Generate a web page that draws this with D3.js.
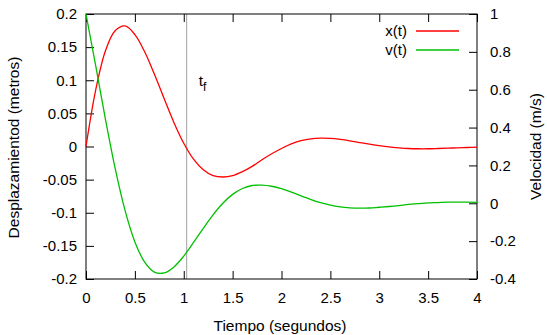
<!DOCTYPE html>
<html>
<head>
<meta charset="utf-8">
<script src="https://cdn.jsdelivr.net/npm/d3@7"></script>
<style>
  body { margin: 0; background: #fff; }
  text { font-family: "Liberation Sans", Arial, sans-serif; }
</style>
</head>
<body>
<div id="chart"></div>
<script>
// time samples (s)
const tiempo = [0, 0.1, 0.2, 0.3, 0.4, 0.5, 0.6, 0.7, 0.8, 0.9, 1.0, 1.1, 1.2, 1.3, 1.4, 1.5, 1.6, 1.7, 1.8, 1.9,
  2.0, 2.1, 2.2, 2.3, 2.4, 2.5, 2.6, 2.7, 2.8, 2.9, 3.0, 3.1, 3.2, 3.3, 3.4, 3.5, 3.6, 3.7, 3.8, 3.9, 4.0];
// x(t) desplazamiento (m)
const desplazamiento = [0, 0.086, 0.145, 0.175, 0.182, 0.169, 0.143, 0.109, 0.072, 0.036, 0.005, -0.019, -0.035, -0.044, -0.046, -0.044,
  -0.038, -0.030, -0.020, -0.011, -0.003, 0.004, 0.0087, 0.0116, 0.0126, 0.0122, 0.0107, 0.0086, 0.006, 0.0035,
  0.0012, -0.0007, -0.002, -0.003, -0.0034, -0.0034, -0.003, -0.0025, -0.002, -0.0015, -0.001];
// v(t) velocidad (m/s)
const velocidad = [1.0, 0.724, 0.441, 0.180, -0.039, -0.204, -0.311, -0.364, -0.368, -0.336, -0.279, -0.207, -0.132, -0.061, 0.0, 0.047,
  0.078, 0.094, 0.096, 0.090, 0.077, 0.059, 0.039, 0.020, 0.003, -0.010, -0.019, -0.024, -0.026, -0.025,
  -0.021, -0.017, -0.012, -0.006, -0.002, 0.002, 0.004, 0.006, 0.006, 0.006, 0.005];

const xTicks = [0, 0.5, 1, 1.5, 2, 2.5, 3, 3.5, 4];
const xTickLabels = ["0", "0.5", "1", "1.5", "2", "2.5", "3", "3.5", "4"];
const yTicks = [0.2, 0.15, 0.1, 0.05, 0, -0.05, -0.1, -0.15, -0.2];
const yTickLabels = ["0.2", "0.15", "0.1", "0.05", "0", "-0.05", "-0.1", "-0.15", "-0.2"];
const y2Ticks = [1, 0.8, 0.6, 0.4, 0.2, 0, -0.2, -0.4];
const y2TickLabels = ["1", "0.8", "0.6", "0.4", "0.2", "0", "-0.2", "-0.4"];
const tFinal = 1.03;

const width = 547, height = 335;
const margin = {top: 14, right: 70, bottom: 56, left: 86};
const x0 = margin.left, x1 = width - margin.right, yTop = margin.top, yBot = height - margin.bottom;

const svg = d3.select('#chart').append('svg')
  .attr('width', width)
  .attr('height', height);

const x = d3.scaleLinear().domain([0, 4]).range([x0, x1]);
const y = d3.scaleLinear().domain([-0.2, 0.2]).range([yBot, yTop]);
const y2 = d3.scaleLinear().domain([-0.4, 1]).range([yBot, yTop]);

// t_f line
svg.append('line')
  .attr('x1', x(tFinal)).attr('x2', x(tFinal))
  .attr('y1', yTop).attr('y2', yBot)
  .attr('stroke', '#a0a0a0').attr('stroke-width', 1);

const tf = svg.append('text')
  .attr('x', x(tFinal) + 12).attr('y', 86)
  .attr('font-size', 15.5).attr('fill', '#000');
tf.append('tspan').text('t');
tf.append('tspan').attr('dy', 5).attr('font-size', 12).text('f');

// axes
const styleAxis = g => {
  g.select('.domain').remove();
  g.selectAll('line').attr('stroke', '#000');
  g.selectAll('text').attr('font-size', 15).attr('fill', '#000')
    .style('font-family', '"Liberation Sans", Arial, sans-serif');
};

svg.append('g')
  .attr('transform', `translate(${x0},0)`)
  .call(d3.axisLeft(y).tickValues(yTicks).tickSize(-8).tickPadding(9)
    .tickFormat((d, i) => yTickLabels[i]))
  .call(styleAxis);

svg.append('g')
  .attr('transform', `translate(${x1},0)`)
  .call(d3.axisRight(y2).tickValues(y2Ticks).tickSize(-8).tickPadding(13)
    .tickFormat((d, i) => y2TickLabels[i]))
  .call(styleAxis);

svg.append('g')
  .attr('transform', `translate(0,${yBot})`)
  .call(d3.axisBottom(x).tickValues(xTicks).tickSize(-8).tickPadding(13)
    .tickFormat((d, i) => xTickLabels[i]))
  .call(styleAxis);

svg.append('g')
  .attr('transform', `translate(0,${yTop})`)
  .call(d3.axisTop(x).tickValues(xTicks).tickSize(-8).tickFormat(''))
  .call(styleAxis);

svg.append('rect')
  .attr('x', x0).attr('y', yTop)
  .attr('width', x1 - x0).attr('height', yBot - yTop)
  .attr('fill', 'none').attr('stroke', '#000').attr('stroke-width', 1);

// curves
const lineX = d3.line()
  .x((d, i) => x(tiempo[i]))
  .y(d => y(d))
  .curve(d3.curveCatmullRom);
const lineV = d3.line()
  .x((d, i) => x(tiempo[i]))
  .y(d => y2(d))
  .curve(d3.curveCatmullRom);

svg.append('path')
  .attr('d', lineX(desplazamiento))
  .attr('fill', 'none').attr('stroke', '#ff0000').attr('stroke-width', 1.3);
svg.append('path')
  .attr('d', lineV(velocidad))
  .attr('fill', 'none').attr('stroke', '#00c000').attr('stroke-width', 1.3);

// legend
const legend = [{name: 'x(t)', color: '#ff0000', y: 31}, {name: 'v(t)', color: '#00c000', y: 50}];
legend.forEach(l => {
  svg.append('text')
    .attr('x', 407).attr('y', l.y).attr('dy', '0.35em')
    .attr('text-anchor', 'end').attr('font-size', 15)
    .text(l.name);
  svg.append('line')
    .attr('x1', 416).attr('x2', 459)
    .attr('y1', l.y).attr('y2', l.y)
    .attr('stroke', l.color).attr('stroke-width', 1.3);
});

// axis titles
svg.append('text')
  .attr('x', 280).attr('y', 331)
  .attr('text-anchor', 'middle').attr('font-size', 15.5)
  .text('Tiempo (segundos)');

svg.append('text')
  .attr('transform', `translate(19,${(yTop + yBot) / 2 + 1}) rotate(-90)`)
  .attr('text-anchor', 'middle').attr('font-size', 15.5)
  .text('Desplazamientod (metros)');

svg.append('text')
  .attr('transform', `translate(541,${(yTop + yBot) / 2}) rotate(-90)`)
  .attr('text-anchor', 'middle').attr('font-size', 15.5)
  .text('Velocidad (m/s)');
</script>
</body>
</html>
